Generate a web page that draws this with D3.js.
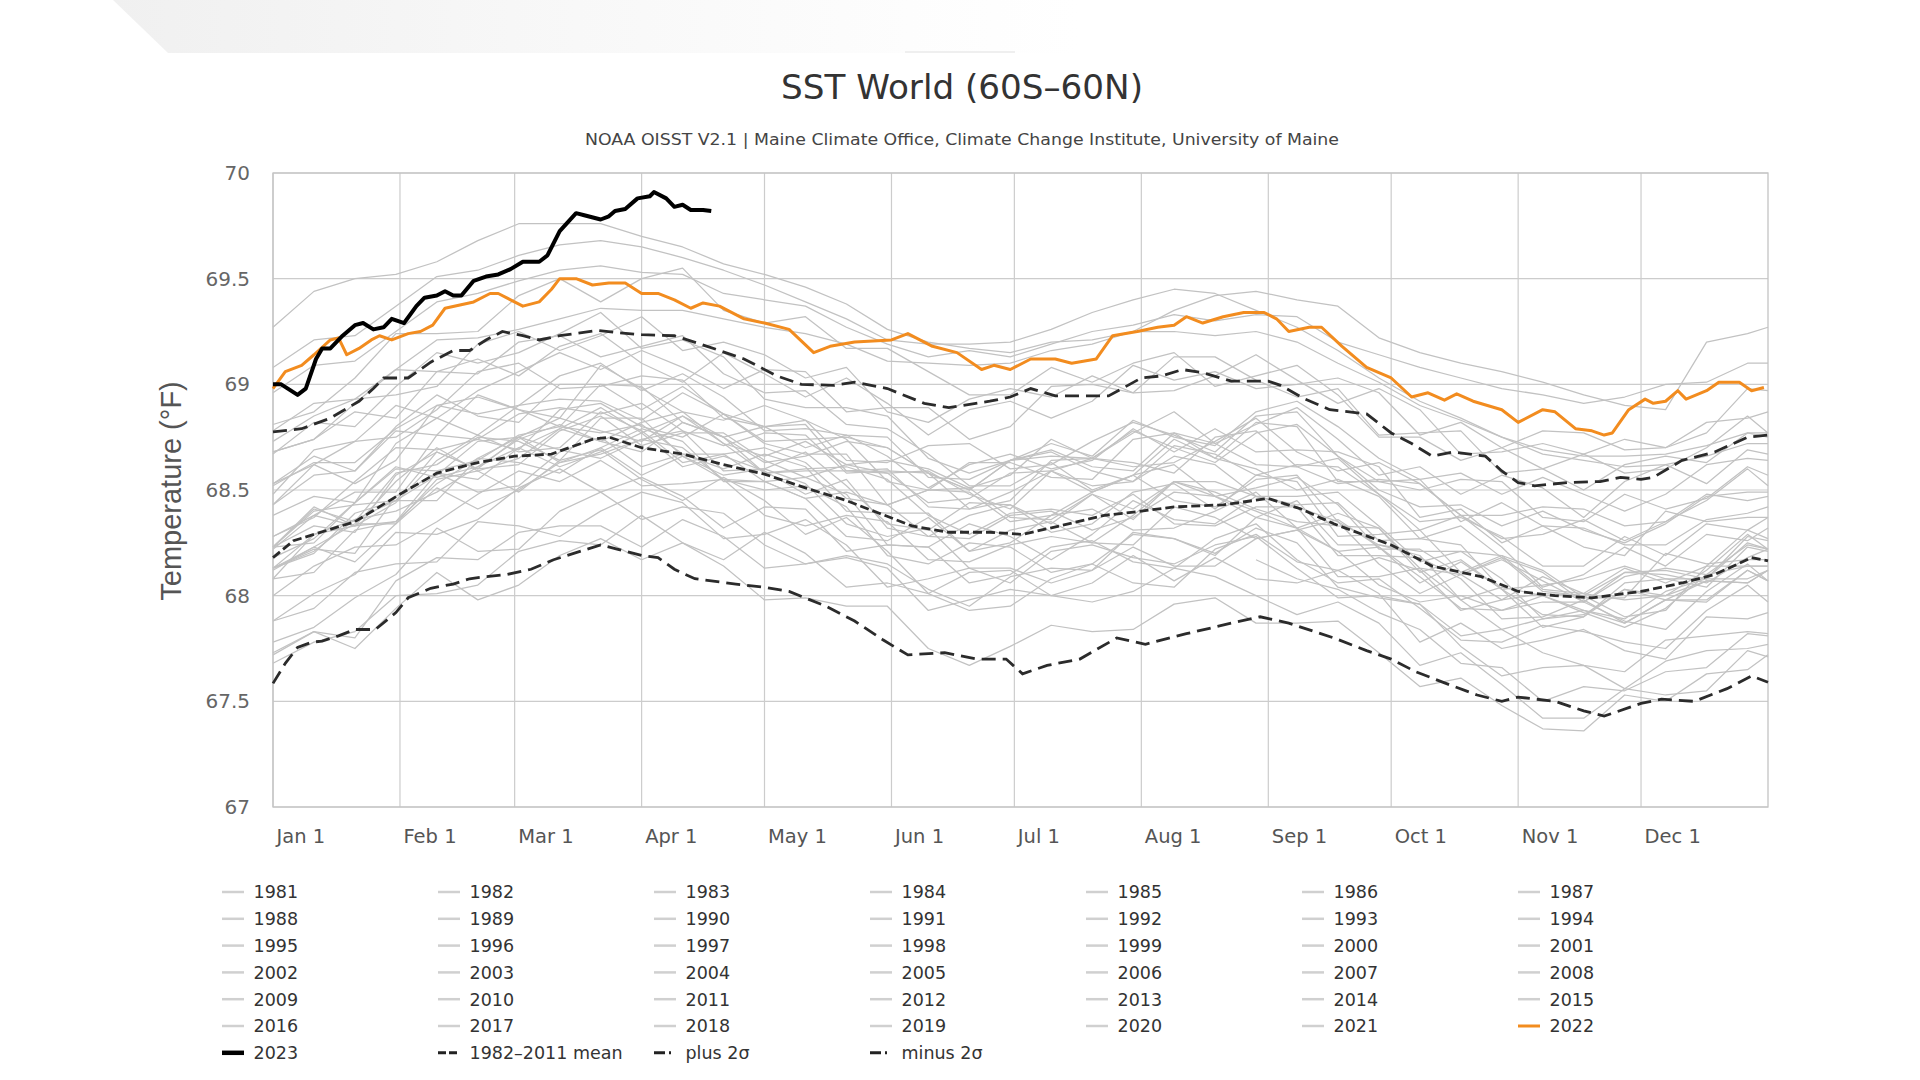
<!DOCTYPE html>
<html><head><meta charset="utf-8">
<script src="https://cdn.jsdelivr.net/npm/d3@7"></script>
<style>body{margin:0;background:#fff;}svg{display:block;}</style>
</head><body>
<svg id="chart" width="1920" height="1080"></svg>
<script>
// ---------- DATA ----------
const monthTicks = [0,31,59,90,120,151,181,212,243,273,304,334];
const monthLabels = ["Jan 1","Feb 1","Mar 1","Apr 1","May 1","Jun 1","Jul 1","Aug 1","Sep 1","Oct 1","Nov 1","Dec 1"];
const yTicks = [67,67.5,68,68.5,69,69.5,70];
const gridDays = [0,10,20,30,40,50,60,70,80,90,100,110,120,130,140,150,160,170,180,190,200,210,220,230,240,250,260,270,280,290,300,310,320,330,340,350,360,365];

const v1981 = [null,null,null,null,null,null,null,null,null,null,null,null,null,null,null,null,null,null,null,null,null,null,null,null,68.17,68.08,68.03,67.92,67.84,67.68,67.66,67.50,67.57,67.55,67.64,67.66,67.82,67.81];
const v1982 = [67.68,67.78,67.83,68.00,68.01,68.05,68.21,68.26,68.24,68.38,68.25,68.17,68.30,68.20,68.04,68.06,68.01,67.93,67.95,68.08,68.15,68.06,68.04,68.22,68.29,68.16,68.12,68.18,68.12,67.93,67.98,68.09,68.01,67.98,68.00,68.12,68.29,68.22];
const v1983 = [68.23,68.41,68.35,68.58,68.62,68.75,68.73,68.64,68.84,68.84,68.66,68.57,68.60,68.53,68.34,68.28,68.32,68.13,68.06,68.21,68.24,68.18,68.15,68.24,68.28,68.13,67.99,68.00,67.96,67.76,67.62,67.66,67.67,67.56,67.69,67.74,67.75,67.77];
const v1984 = [67.78,67.85,67.99,68.10,68.32,68.21,68.22,68.40,68.49,68.36,68.42,68.39,68.24,68.15,68.18,68.13,67.93,67.98,68.03,68.00,67.97,68.02,68.13,68.09,68.00,67.91,67.97,67.87,67.67,67.73,67.58,67.42,67.42,67.56,67.53,67.55,67.74,67.71];
const v1985 = [67.72,67.83,67.75,67.94,68.11,67.98,68.05,68.19,68.27,68.17,68.25,68.14,67.98,67.99,67.95,67.95,67.75,67.67,67.76,67.86,67.83,67.84,67.96,67.99,67.87,67.87,67.88,67.73,67.57,67.61,67.48,67.37,67.36,67.53,67.50,67.63,67.65,67.72];
const v1986 = [67.73,67.83,67.80,68.07,68.18,68.17,68.30,68.33,68.33,68.23,68.36,68.28,68.13,68.15,68.19,68.15,68.03,67.95,68.09,68.13,68.12,68.23,68.14,68.14,68.27,68.31,68.21,68.05,67.97,68.00,67.93,68.00,67.92,67.85,67.94,68.10,68.14,68.14];
const v1987 = [68.13,68.21,68.36,68.45,68.68,68.60,68.62,68.78,68.85,68.71,68.77,68.77,68.64,68.56,68.62,68.58,68.44,68.46,68.58,68.59,68.49,68.57,68.74,68.65,68.60,68.50,68.55,68.47,68.27,68.33,68.18,68.02,68.00,68.11,68.12,68.08,68.28,68.26];
const v1988 = [68.23,68.40,68.43,68.45,68.57,68.73,68.75,68.63,68.67,68.74,68.70,68.55,68.50,68.52,68.42,68.19,68.15,68.25,68.23,68.11,68.15,68.29,68.27,68.20,68.32,68.25,68.04,67.99,67.96,67.81,67.84,67.73,67.67,67.64,67.79,67.81,67.83,67.82];
const v1989 = [67.88,67.94,68.11,68.15,68.16,68.35,68.33,68.28,68.40,68.49,68.44,68.27,68.29,68.36,68.24,68.04,68.08,68.13,68.13,68.06,68.12,68.30,68.27,68.19,68.37,68.32,68.09,68.09,68.13,67.98,67.84,67.89,67.93,67.87,67.98,67.97,68.12,68.07];
const v1990 = [68.08,68.29,68.33,68.35,68.53,68.65,68.75,68.69,68.65,68.74,68.78,68.59,68.60,68.68,68.52,68.34,68.31,68.44,68.43,68.30,68.34,68.49,68.53,68.41,68.57,68.54,68.28,68.29,68.31,68.11,68.19,68.12,67.99,67.99,68.20,68.15,68.17,68.17];
const v1991 = [68.23,68.33,68.30,68.57,68.68,68.60,68.75,68.84,68.78,68.73,68.85,68.72,68.58,68.60,68.61,68.55,68.38,68.29,68.39,68.41,68.38,68.48,68.34,68.33,68.42,68.42,68.35,68.15,68.01,68.10,67.98,68.01,68.00,67.90,67.93,68.14,68.14,68.14];
const v1992 = [68.13,68.23,68.34,68.34,68.55,68.59,68.49,68.64,68.69,68.55,68.45,68.56,68.45,68.29,68.37,68.21,68.01,68.11,68.12,68.00,68.06,68.19,68.07,68.18,68.08,68.06,68.12,68.01,67.78,67.87,67.75,67.79,67.84,67.74,67.70,67.90,67.89,67.92];
const v1993 = [67.88,68.01,68.10,68.30,68.29,68.36,68.51,68.60,68.49,68.56,68.47,68.32,68.42,68.41,68.21,68.24,68.23,68.06,68.10,68.23,68.26,68.16,68.13,68.27,68.34,68.17,68.06,68.08,67.94,67.79,67.78,67.86,67.83,67.78,67.75,67.93,68.05,67.97];
const v1994 = [68.00,68.14,68.23,68.24,68.35,68.48,68.59,68.54,68.64,68.52,68.53,68.55,68.54,68.46,68.28,68.26,68.37,68.21,68.31,68.35,68.25,68.38,68.54,68.49,68.41,68.35,68.33,68.32,68.13,68.10,68.18,68.11,67.97,68.11,68.10,68.06,68.18,68.22];
const v1995 = [68.18,68.27,68.44,68.60,68.59,68.64,68.76,68.80,68.77,68.81,68.67,68.60,68.67,68.61,68.40,68.39,68.39,68.21,68.25,68.38,68.41,68.31,68.32,68.40,68.49,68.32,68.21,68.23,68.09,67.94,67.93,67.97,67.97,67.88,67.84,68.02,68.15,68.07];
const v1996 = [68.12,68.23,68.16,68.34,68.51,68.41,68.50,68.63,68.70,68.57,68.66,68.55,68.38,68.33,68.38,68.35,68.17,68.16,68.24,68.28,68.25,68.24,68.42,68.37,68.27,68.31,68.36,68.23,68.06,68.16,68.03,67.85,67.90,68.03,68.00,68.07,68.06,68.12];
const v1997 = [68.13,68.22,68.20,68.47,68.58,68.55,68.70,68.79,68.73,68.68,68.82,68.75,68.63,68.66,68.73,68.70,68.58,68.50,68.64,68.72,68.66,68.83,68.75,68.71,68.87,68.92,68.80,68.65,68.55,68.58,68.48,68.56,68.48,68.40,68.48,68.62,68.65,68.64];
const v1998 = [68.67,68.82,68.80,68.99,69.15,69.10,69.15,69.24,69.34,69.17,69.21,69.13,68.93,68.89,68.89,68.85,68.65,68.58,68.64,68.68,68.59,68.54,68.66,68.62,68.47,68.47,68.49,68.33,68.16,68.21,68.08,67.89,67.91,68.03,67.98,68.07,68.06,68.12];
const v1999 = [68.13,68.20,68.39,68.45,68.45,68.65,68.63,68.58,68.70,68.79,68.73,68.54,68.54,68.56,68.48,68.24,68.23,68.34,68.28,68.17,68.29,68.45,68.36,68.34,68.47,68.42,68.19,68.19,68.18,68.08,67.89,67.90,67.98,67.87,67.98,67.98,68.12,68.07];
const v2000 = [68.08,68.11,68.31,68.35,68.58,68.49,68.52,68.68,68.75,68.61,68.67,68.67,68.54,68.46,68.49,68.43,68.28,68.27,68.38,68.40,68.31,68.37,68.49,68.47,68.40,68.32,68.39,68.32,68.11,68.17,68.03,67.91,67.90,68.06,68.08,68.04,68.23,68.21];
const v2001 = [68.22,68.38,68.33,68.54,68.70,68.59,68.65,68.79,68.89,68.77,68.85,68.75,68.58,68.59,68.59,68.60,68.42,68.41,68.49,68.59,68.52,68.54,68.71,68.67,68.57,68.62,68.61,68.48,68.35,68.37,68.28,68.14,68.14,68.28,68.19,68.34,68.31,68.37];
const v2002 = [68.38,68.47,68.44,68.72,68.84,68.76,68.90,68.93,68.92,68.83,68.96,68.86,68.73,68.74,68.75,68.70,68.58,68.50,68.64,68.66,68.65,68.78,68.70,68.63,68.77,68.81,68.66,68.50,68.42,68.43,68.33,68.40,68.31,68.25,68.34,68.47,68.49,68.49];
const v2003 = [68.48,68.69,68.73,68.75,68.88,69.06,69.10,68.98,68.99,69.04,69.02,68.84,68.80,68.83,68.74,68.54,68.50,68.63,68.63,68.56,68.55,68.74,68.77,68.65,68.82,68.80,68.54,68.54,68.55,68.35,68.44,68.33,68.23,68.19,68.40,68.35,68.37,68.37];
const v2004 = [68.43,68.57,68.59,68.78,68.76,68.95,68.88,68.80,69.00,68.99,68.82,68.75,68.80,68.81,68.59,68.58,68.59,68.48,68.41,68.59,68.65,68.63,68.58,68.75,68.78,68.61,68.53,68.55,68.53,68.38,68.27,68.29,68.36,68.26,68.35,68.48,68.45,68.47];
const v2005 = [68.52,68.63,68.63,68.79,68.90,68.86,68.90,69.04,69.10,68.97,69.05,68.94,68.78,68.79,68.76,68.75,68.56,68.55,68.64,68.69,68.61,68.59,68.77,68.72,68.62,68.61,68.65,68.48,68.31,68.38,68.23,68.04,68.10,68.23,68.14,68.29,68.26,68.32];
const v2006 = [68.28,68.37,68.54,68.70,68.69,68.74,68.86,68.89,68.86,68.91,68.78,68.71,68.77,68.76,68.58,68.59,68.58,68.41,68.45,68.64,68.65,68.61,68.63,68.73,68.84,68.68,68.59,68.63,68.53,68.38,68.38,68.42,68.41,68.33,68.35,68.45,68.60,68.52];
const v2007 = [68.53,68.66,68.59,68.80,68.95,68.85,68.82,69.00,69.00,68.88,68.99,68.86,68.72,68.67,68.67,68.43,68.50,68.51,68.37,68.36,68.48,68.41,68.54,68.47,68.37,68.45,68.24,68.24,68.19,67.98,68.04,68.00,67.93,67.89,68.02,68.08,68.08,68.12];
const v2008 = [68.13,68.29,68.36,68.40,68.49,68.61,68.70,68.61,68.68,68.77,68.61,68.66,68.59,68.48,68.55,68.32,68.28,68.38,68.43,68.34,68.48,68.36,68.54,68.54,68.47,68.43,68.44,68.26,68.27,68.24,68.03,68.05,68.08,68.14,68.08,68.08,68.25,68.22];
const v2009 = [68.23,68.25,68.44,68.61,68.56,68.61,68.74,68.81,68.73,68.82,68.87,68.72,68.66,68.73,68.62,68.64,68.60,68.51,68.57,68.74,68.65,68.77,68.87,68.72,68.81,68.89,68.74,68.57,68.61,68.48,68.57,68.51,68.37,68.54,68.62,68.53,68.69,68.67];
const v2010 = [68.68,68.74,68.91,69.07,69.06,69.05,69.20,69.23,69.13,69.18,69.23,69.05,68.96,68.97,68.81,68.79,68.67,68.52,68.52,68.63,68.50,68.57,68.62,68.47,68.51,68.56,68.43,68.22,68.22,68.10,68.17,68.07,67.97,68.09,68.13,68.10,68.24,68.22];
const v2011 = [68.23,68.42,68.33,68.44,68.64,68.76,68.68,68.70,68.87,68.78,68.63,68.67,68.70,68.63,68.46,68.43,68.50,68.49,68.35,68.38,68.49,68.57,68.45,68.42,68.55,68.57,68.35,68.24,68.21,68.21,68.19,68.03,68.01,68.13,68.06,68.14,68.31,68.27];
const v2012 = [68.28,68.38,68.49,68.49,68.76,68.74,68.69,68.88,68.91,68.80,68.75,68.86,68.80,68.70,68.76,68.66,68.51,68.62,68.67,68.60,68.64,68.79,68.68,68.79,68.68,68.69,68.68,68.61,68.37,68.41,68.25,68.33,68.32,68.24,68.24,68.36,68.39,68.42];
const v2013 = [68.43,68.62,68.53,68.64,68.90,68.94,68.88,68.84,69.09,68.98,68.87,68.83,68.90,68.83,68.64,68.63,68.71,68.72,68.60,68.62,68.73,68.82,68.76,68.68,68.85,68.87,68.66,68.54,68.50,68.55,68.54,68.37,68.35,68.48,68.41,68.46,68.61,68.57];
const v2014 = [68.53,68.62,68.73,68.90,68.84,68.97,69.06,69.15,69.07,69.16,69.08,68.98,69.07,69.06,68.87,68.89,68.89,68.74,68.80,68.99,69.00,68.96,68.97,69.04,69.14,69.02,68.91,68.98,68.88,68.67,68.68,68.72,68.67,68.58,68.60,68.70,68.85,68.77];
const v2015 = [68.78,68.91,68.93,69.07,69.21,69.22,69.26,69.31,69.36,69.35,69.35,69.31,69.27,69.24,69.19,69.11,69.10,69.09,69.10,69.16,69.19,69.25,69.35,69.42,69.44,69.40,69.37,69.22,69.15,69.10,69.06,69.01,68.95,68.90,68.88,69.20,69.24,69.27];
const v2016 = [69.27,69.44,69.50,69.52,69.58,69.68,69.76,69.76,69.76,69.70,69.65,69.57,69.52,69.46,69.38,69.26,69.20,69.17,69.15,69.20,69.21,69.25,69.25,69.23,69.25,69.20,69.10,69.01,68.90,68.83,68.75,68.67,68.64,68.61,68.62,68.66,68.72,68.72];
const v2017 = [68.81,68.87,69.03,69.24,69.24,69.25,69.42,69.50,69.39,69.50,69.55,69.35,69.29,69.32,69.17,69.17,69.06,68.95,68.95,69.08,69.01,69.10,69.15,68.99,69.04,69.09,68.95,68.75,68.75,68.64,68.70,68.60,68.50,68.62,68.66,68.63,68.77,68.75];
const v2018 = [68.68,68.74,68.87,68.84,69.06,69.12,69.04,69.18,69.24,69.10,69.01,69.15,69.05,68.94,69.03,68.91,68.76,68.88,68.92,68.84,68.92,69.09,69.02,69.06,68.98,69.00,69.03,68.96,68.76,68.82,68.70,68.78,68.77,68.69,68.70,68.82,68.84,68.87];
const v2019 = [68.96,69.09,69.11,69.25,69.39,69.43,69.49,69.54,69.56,69.53,69.52,69.43,69.40,69.37,69.27,69.19,69.13,69.16,69.13,69.19,69.25,69.28,69.33,69.30,69.33,69.32,69.20,69.14,69.08,69.03,68.98,68.95,68.91,68.94,69.00,69.01,69.10,69.10];
const v2020 = [69.08,69.21,69.23,69.37,69.51,69.54,69.61,69.66,69.68,69.65,69.60,69.54,69.47,69.39,69.31,69.21,69.19,69.19,69.20,69.26,69.34,69.40,69.45,69.43,69.35,69.27,69.16,69.03,68.92,68.84,68.75,68.69,68.66,68.66,68.67,68.71,68.77,68.77];
const v2021 = [68.73,68.85,68.93,68.95,68.99,69.19,69.25,69.16,69.23,69.32,69.16,69.20,69.14,69.03,69.08,68.87,68.82,68.93,68.98,68.94,69.04,68.96,69.13,69.13,69.02,68.94,68.98,68.76,68.77,68.78,68.58,68.60,68.67,68.74,68.70,68.77,68.98,68.97];

const grayYears = [1981,1982,1983,1984,1985,1986,1987,1988,1989,1990,1991,1992,1993,1994,1995,1996,1997,1998,1999,2000,2001,2002,2003,2004,2005,2006,2007,2008,2009,2010,2011,2012,2013,2014,2015,2016,2017,2018,2019,2020,2021];
const grayValues = [v1981,v1982,v1983,v1984,v1985,v1986,v1987,v1988,v1989,v1990,v1991,v1992,v1993,v1994,v1995,v1996,v1997,v1998,v1999,v2000,v2001,v2002,v2003,v2004,v2005,v2006,v2007,v2008,v2009,v2010,v2011,v2012,v2013,v2014,v2015,v2016,v2017,v2018,v2019,v2020,v2021];

const days2022 = [0,3,7,10,14,16,18,21,24,26,29,33,36,39,42,49,53,55,58,61,65,68,70,74,78,82,86,90,94,98,102,105,109,115,120,126,132,136,142,151,155,161,167,173,176,180,185,191,195,201,205,211,216,220,223,227,232,237,242,245,248,253,256,261,267,273,278,282,286,289,293,300,304,310,313,318,322,325,327,331,335,337,340,343,345,350,353,358,361,364];
const vals2022 = [68.98,69.06,69.09,69.14,69.21,69.22,69.14,69.17,69.21,69.23,69.21,69.24,69.25,69.28,69.36,69.39,69.43,69.43,69.40,69.37,69.39,69.45,69.50,69.50,69.47,69.48,69.48,69.43,69.43,69.40,69.36,69.385,69.37,69.31,69.29,69.26,69.15,69.18,69.20,69.21,69.24,69.18,69.15,69.07,69.09,69.07,69.12,69.12,69.10,69.12,69.23,69.25,69.27,69.28,69.32,69.29,69.32,69.34,69.34,69.31,69.25,69.27,69.27,69.18,69.08,69.03,68.94,68.96,68.925,68.955,68.92,68.88,68.82,68.88,68.87,68.79,68.78,68.76,68.77,68.88,68.93,68.91,68.92,68.97,68.93,68.97,69.01,69.01,68.97,68.985];

const days2023 = [0,2,6,8,10.5,12,14,17,20,22,24.5,27,29,32,35,37,40,42,44,46,49,52,55,58,61,65,67,70,74,76,80,82,83.5,86,89,92,93,96,98,100,102,105,107];
const vals2023 = [69.00,69.00,68.95,68.98,69.12,69.17,69.17,69.23,69.28,69.29,69.26,69.27,69.31,69.29,69.37,69.41,69.42,69.44,69.42,69.42,69.49,69.51,69.52,69.545,69.58,69.58,69.61,69.725,69.81,69.80,69.78,69.795,69.82,69.83,69.88,69.89,69.91,69.88,69.84,69.85,69.825,69.825,69.82];

const meanDays = [0,5,10,20,31,40,50,59,68,78,82,90,100,110,120,130,140,148,156,165,175,183,192,203,212,220,232,243,251,259,273,283,295,304,313,322,334,344,352,361,365];
const meanVals = [68.18,68.26,68.29,68.35,68.48,68.58,68.63,68.66,68.67,68.74,68.75,68.70,68.67,68.62,68.575,68.51,68.45,68.39,68.33,68.30,68.30,68.29,68.33,68.38,68.40,68.42,68.43,68.46,68.41,68.34,68.24,68.14,68.09,68.02,68.00,67.99,68.02,68.06,68.10,68.18,68.165];

const plusDays = [0,7,14,21,24.5,27,33,38.5,44,48,52,56,61,65,70,79,84,90,98,106,115,123,129,137,142,150,159,165,175,180,185,191,199,204,212,217,222,227,234,243,246,252,258,267,273,278,283,288,296,300,304,308,316,324,329,334,337,344,352,360,365];
const plusVals = [68.775,68.79,68.84,68.92,68.98,69.03,69.03,69.105,69.16,69.16,69.21,69.25,69.23,69.21,69.23,69.255,69.245,69.235,69.23,69.18,69.12,69.04,69.00,68.995,69.01,68.98,68.91,68.89,68.92,68.94,68.98,68.945,68.945,68.945,69.03,69.04,69.07,69.055,69.015,69.015,68.995,68.93,68.88,68.86,68.77,68.72,68.66,68.68,68.66,68.59,68.535,68.52,68.535,68.54,68.56,68.55,68.56,68.64,68.68,68.75,68.76];

const minusDays = [0,3,6,9.5,12,16,20,25,30,33,38.5,44,48,52,57,63,68.5,80,84,90,94,98,103,113,120,126,135,142,149,155,164,172,179,183,189,197,206,213,223,234,241,248,259,267,273,279,287,294,300,304,313,320,325,334,339,347,355,361,365];
const minusVals = [67.585,67.68,67.755,67.78,67.785,67.81,67.84,67.84,67.92,67.99,68.035,68.055,68.08,68.09,68.10,68.125,68.17,68.24,68.22,68.19,68.18,68.125,68.08,68.055,68.04,68.02,67.95,67.88,67.79,67.72,67.73,67.70,67.70,67.63,67.67,67.70,67.80,67.77,67.82,67.87,67.90,67.87,67.80,67.74,67.70,67.64,67.58,67.53,67.50,67.52,67.50,67.455,67.43,67.49,67.51,67.50,67.56,67.62,67.59];

const legendLabels = grayYears.map(String).concat(["2022","2023","1982\u20132011 mean","plus 2\u03c3","minus 2\u03c3"]);

// ---------- LAYOUT ----------
const svg = d3.select("#chart");
const X0 = 273, X1 = 1768, Y0 = 173, Y1 = 807;
const x = d3.scaleLinear().domain([0,365]).range([X0,X1]);
const y = d3.scaleLinear().domain([67,70]).range([Y1,Y0]);

// faint header band top-left
const defs = svg.append("defs");
const grad = defs.append("linearGradient").attr("id","hdr").attr("x1","0").attr("x2","1").attr("y1","0").attr("y2","0");
grad.append("stop").attr("offset","0").attr("stop-color","#f0f0f0");
grad.append("stop").attr("offset","0.35").attr("stop-color","#f7f7f7");
grad.append("stop").attr("offset","0.7").attr("stop-color","#fdfdfd");
grad.append("stop").attr("offset","0.85").attr("stop-color","#ffffff");
svg.append("polygon").attr("points","113,0 1250,0 1250,53 168,53").attr("fill","url(#hdr)");
svg.append("line").attr("x1",905).attr("x2",1015).attr("y1",52).attr("y2",52).attr("stroke","#efefef").attr("stroke-width",2);

// title
svg.append("text").attr("x",962).attr("y",99).attr("text-anchor","middle")
  .attr("font-family","DejaVu Sans, sans-serif").attr("font-size",33).attr("fill","#333")
  .attr("textLength",362).attr("lengthAdjust","spacingAndGlyphs")
  .text("SST World (60S\u201360N)");
svg.append("text").attr("x",962).attr("y",145).attr("text-anchor","middle")
  .attr("font-family","DejaVu Sans, sans-serif").attr("font-size",16).attr("fill","#444")
  .attr("textLength",754).attr("lengthAdjust","spacingAndGlyphs")
  .text("NOAA OISST V2.1 | Maine Climate Office, Climate Change Institute, University of Maine");

// grid
const grid = svg.append("g");
grid.selectAll("line.h").data(yTicks).join("line").attr("class","h")
  .attr("x1",X0).attr("x2",X1).attr("y1",d=>y(d)).attr("y2",d=>y(d))
  .attr("stroke","#cccccc").attr("stroke-width",1.2);
grid.selectAll("line.v").data(monthTicks).join("line").attr("class","v")
  .attr("x1",d=>x(d)).attr("x2",d=>x(d)).attr("y1",Y0).attr("y2",Y1)
  .attr("stroke","#cccccc").attr("stroke-width",1.2);
grid.append("rect").attr("x",X0).attr("y",Y0).attr("width",X1-X0).attr("height",Y1-Y0)
  .attr("fill","none").attr("stroke","#c4c4c4").attr("stroke-width",1.3);

// axes labels
const yAxis = d3.axisLeft(y).tickValues(yTicks).tickSize(0).tickPadding(23).tickFormat(d=>String(d));
const gy = svg.append("g").attr("transform",`translate(${X0},0)`).call(yAxis);
gy.select(".domain").remove();
gy.selectAll("text").attr("font-family","DejaVu Sans, sans-serif").attr("font-size",20).attr("fill","#666");

const xAxis = d3.axisBottom(x).tickValues(monthTicks).tickSize(0).tickFormat((d,i)=>monthLabels[i]);
const gx = svg.append("g").attr("transform",`translate(0,${Y1})`).call(xAxis);
gx.select(".domain").remove();
gx.selectAll("text").attr("font-family","DejaVu Sans, sans-serif").attr("font-size",19.5).attr("fill","#555")
  .attr("text-anchor","start").attr("dx",3).attr("dy",0).attr("y",36);

svg.append("text").attr("transform","translate(181,491) rotate(-90)").attr("text-anchor","middle")
  .attr("font-family","Liberation Sans, Arial, sans-serif").attr("font-size",29).attr("fill","#555")
  .text("Temperature (\u00b0F)");

// lines
const line = d3.line().defined(d=>d[1]!=null).x(d=>x(d[0])).y(d=>y(d[1]));
const plot = svg.append("g");
grayValues.forEach((vals,i)=>{
  plot.append("path").datum(gridDays.map((d,j)=>[d,vals[j]]))
    .attr("d",line).attr("fill","none").attr("stroke","#c2c2c2").attr("stroke-width",1.25)
    .attr("stroke-linejoin","round");
});
const pair = (ds,vs)=>ds.map((d,i)=>[d,vs[i]]);
plot.append("path").datum(pair(minusDays,minusVals)).attr("d",line).attr("fill","none")
  .attr("stroke","#2b2b2b").attr("stroke-width",2.8).attr("stroke-dasharray","14,7");
plot.append("path").datum(pair(plusDays,plusVals)).attr("d",line).attr("fill","none")
  .attr("stroke","#2b2b2b").attr("stroke-width",2.8).attr("stroke-dasharray","14,7");
plot.append("path").datum(pair(meanDays,meanVals)).attr("d",line).attr("fill","none")
  .attr("stroke","#2b2b2b").attr("stroke-width",2.8).attr("stroke-dasharray","9,4");
plot.append("path").datum(pair(days2022,vals2022)).attr("d",line).attr("fill","none")
  .attr("stroke","#f28c1f").attr("stroke-width",3).attr("stroke-linejoin","round");
plot.append("path").datum(pair(days2023,vals2023)).attr("d",line).attr("fill","none")
  .attr("stroke","#000").attr("stroke-width",4).attr("stroke-linejoin","round");

// legend
const lg = svg.append("g");
const colW = 216, rowH = 26.8, lx0 = 222, ly0 = 892;
legendLabels.forEach((lab,i)=>{
  const c = i % 7, r = Math.floor(i/7);
  const gx0 = lx0 + c*colW, gy0 = ly0 + r*rowH;
  const s = lg.append("line").attr("x1",gx0).attr("x2",gx0+22).attr("y1",gy0).attr("y2",gy0);
  if (i < 41) s.attr("stroke","#d0d0d0").attr("stroke-width",2.5);
  else if (lab==="2022") s.attr("stroke","#f28c1f").attr("stroke-width",3);
  else if (lab==="2023") s.attr("stroke","#000").attr("stroke-width",4.5);
  else if (i===43) s.attr("stroke","#222").attr("stroke-width",3).attr("stroke-dasharray","8,3");
  else s.attr("stroke","#222").attr("stroke-width",3).attr("stroke-dasharray","11,4,2,20");
  lg.append("text").attr("x",gx0+31.5).attr("y",gy0).attr("dy","0.36em")
    .attr("font-family","DejaVu Sans, sans-serif").attr("font-size",17.5).attr("fill","#333").text(lab);
});
</script>
</body></html>
